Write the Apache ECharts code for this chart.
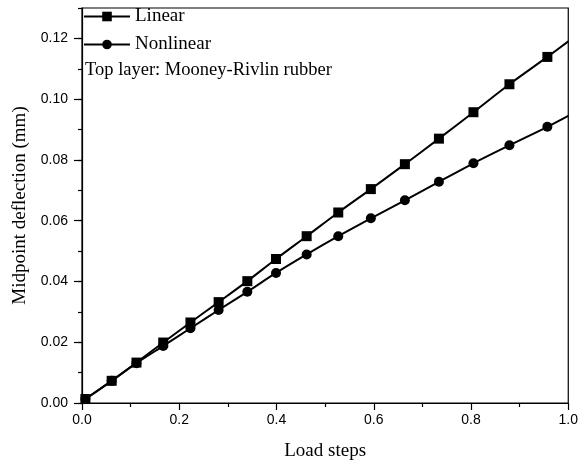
<!DOCTYPE html>
<html>
<head>
<meta charset="utf-8">
<script src="https://cdn.jsdelivr.net/npm/echarts@6/dist/echarts.min.js"></script>
<style>
html,body{margin:0;padding:0;background:#fff;}
#chart{width:581px;height:466px;}
</style>
</head>
<body>
<div id="chart"></div>
<script>
// Data
var loadSteps = [0.007, 0.061, 0.112, 0.167, 0.223, 0.281, 0.340, 0.399, 0.462, 0.527, 0.594, 0.664, 0.734, 0.805, 0.879, 0.957, 1.0];
var linear    = [0.0013, 0.0073, 0.0133, 0.0199, 0.0265, 0.0332, 0.0401, 0.0474, 0.0549, 0.0627, 0.0704, 0.0786, 0.0870, 0.0957, 0.1049, 0.1139, 0.1190];
var nonlinear = [0.0013, 0.0073, 0.0131, 0.0188, 0.0246, 0.0306, 0.0366, 0.0428, 0.0489, 0.0549, 0.0608, 0.0667, 0.0728, 0.0789, 0.0848, 0.0909, 0.0945];
var markerShown = [1,1,1,1,1,1,1,1,1,1,1,1,1,1,1,1,0];
var yMajorTicks = [0, 0.02, 0.04, 0.06, 0.08, 0.10, 0.12];
var seriesNames = ['Linear', 'Nonlinear'];
var annotation = 'Top layer: Mooney-Rivlin rubber';
var xTitle = 'Load steps';
var yTitle = 'Midpoint deflection (mm)';

function build(ys) {
  return loadSteps.map(function (x, i) {
    var d = { value: [x, ys[i]] };
    if (!markerShown[i]) d.symbol = 'none';
    return d;
  });
}

var serif = '"Liberation Serif", "Times New Roman", serif';
var sans = '"Liberation Sans", Arial, sans-serif';

var chart = echarts.init(document.getElementById('chart'), null, { renderer: 'canvas' });
chart.setOption({
  animation: false,
  backgroundColor: '#fff',
  grid: { left: 82, right: 11, top: 8, bottom: 62, show: true, borderColor: '#000', borderWidth: 1.2, backgroundColor: 'transparent' },
  legend: {
    orient: 'vertical', left: 78, top: 2,
    itemWidth: 46, itemHeight: 12, itemGap: 9,
    textStyle: { fontFamily: serif, fontSize: 19, color: '#000' },
    data: seriesNames
  },
  graphic: [{
    type: 'text', left: 85, top: 61,
    style: { text: annotation, font: '18.5px ' + serif, fill: '#000' }
  }],
  xAxis: {
    type: 'value', min: 0, max: 1, interval: 0.2,
    name: xTitle, nameLocation: 'middle', nameGap: 39,
    nameTextStyle: { fontFamily: serif, fontSize: 19, color: '#000' },
    axisLine: { lineStyle: { color: '#000', width: 1.2 } },
    axisTick: { inside: false, length: 7, lineStyle: { color: '#000', width: 1.2 } },
    minorTick: { show: true, splitNumber: 2, length: 4, lineStyle: { color: '#000', width: 1.2 } },
    axisLabel: { fontFamily: sans, fontSize: 14, color: '#000', margin: 10, formatter: function (v) { return v.toFixed(1); } },
    splitLine: { show: false }
  },
  yAxis: [{
    type: 'value', min: 0, max: 0.13, interval: 0.02,
    name: yTitle, nameLocation: 'middle', nameGap: 50,
    nameTextStyle: { fontFamily: serif, fontSize: 19, color: '#000' },
    axisLine: { lineStyle: { color: '#000', width: 1.2 } },
    axisTick: { length: 8, customValues: yMajorTicks, lineStyle: { color: '#000', width: 1.2 } },
    axisLabel: { fontFamily: sans, fontSize: 14, color: '#000', margin: 14, customValues: yMajorTicks, formatter: function (v) { return v.toFixed(2); } },
    splitLine: { show: false }
  }, {
    type: 'value', min: 0, max: 0.13, interval: 0.01, position: 'left',
    axisLine: { show: false },
    axisTick: { length: 4, lineStyle: { color: '#000', width: 1.2 } },
    axisLabel: { show: false },
    splitLine: { show: false }
  }],
  series: [{
    name: seriesNames[0], type: 'line', yAxisIndex: 0,
    smooth: 0.3, symbol: 'rect', symbolSize: 10, showAllSymbol: true,
    lineStyle: { color: '#000', width: 2 }, itemStyle: { color: '#000' },
    data: build(linear)
  }, {
    name: seriesNames[1], type: 'line', yAxisIndex: 0,
    smooth: 0.3, symbol: 'circle', symbolSize: 10, showAllSymbol: true,
    lineStyle: { color: '#000', width: 2 }, itemStyle: { color: '#000' },
    data: build(nonlinear)
  }]
});
</script>
</body>
</html>
